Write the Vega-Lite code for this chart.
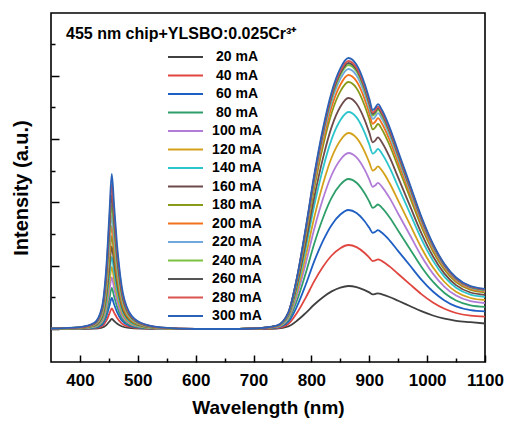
{
"$schema": "https://vega.github.io/schema/vega-lite/v6.json",
"width": 434, "height": 349,
"autosize": {"type": "none"},
"padding": {"left": 51, "top": 13, "right": 22, "bottom": 59},
"background": "white",
"config": {"view": {"stroke": "black", "strokeWidth": 1.6}, "font": "Liberation Sans"},
"title": {"text": "455 nm chip+YLSBO:0.025Cr³⁺", "anchor": "start", "orient": "top", "frame": "group", "offset": -42, "baseline": "alphabetic", "dx": 15, "fontSize": 16, "fontWeight": "bold", "font": "Liberation Sans", "color": "black"},
"data": {"values": [
{"wl":350,"20 mA":0,"40 mA":0.1,"60 mA":0.1,"80 mA":0.1,"100 mA":0.2,"120 mA":0.2,"140 mA":0.2,"160 mA":0.2,"180 mA":0.3,"200 mA":0.3,"220 mA":0.3,"240 mA":0.4,"260 mA":0.4,"280 mA":0.4,"300 mA":0.5},
{"wl":400,"20 mA":0.1,"40 mA":0.2,"60 mA":0.4,"80 mA":0.5,"100 mA":0.6,"120 mA":0.7,"140 mA":0.9,"160 mA":1,"180 mA":1.1,"200 mA":1.2,"220 mA":1.4,"240 mA":1.5,"260 mA":1.6,"280 mA":1.7,"300 mA":1.9},
{"wl":425,"20 mA":0.4,"40 mA":0.8,"60 mA":1.2,"80 mA":1.6,"100 mA":2.1,"120 mA":2.5,"140 mA":2.9,"160 mA":3.3,"180 mA":3.7,"200 mA":4.1,"220 mA":4.5,"240 mA":5,"260 mA":5.4,"280 mA":5.8,"300 mA":6.2},
{"wl":438,"20 mA":1.4,"40 mA":2.9,"60 mA":4.3,"80 mA":5.7,"100 mA":7.2,"120 mA":8.7,"140 mA":10.1,"160 mA":11.6,"180 mA":13,"200 mA":14.4,"220 mA":15.9,"240 mA":17.4,"260 mA":18.8,"280 mA":20.2,"300 mA":21.7},
{"wl":446,"20 mA":4.2,"40 mA":8.6,"60 mA":13,"80 mA":17.2,"100 mA":21.6,"120 mA":26,"140 mA":30.2,"160 mA":34.7,"180 mA":39.1,"200 mA":43.3,"220 mA":47.7,"240 mA":52.1,"260 mA":56.3,"280 mA":60.7,"300 mA":65.1},
{"wl":451,"20 mA":7.5,"40 mA":15.4,"60 mA":23.3,"80 mA":30.8,"100 mA":38.6,"120 mA":46.5,"140 mA":54,"160 mA":61.9,"180 mA":69.8,"200 mA":77.3,"220 mA":85.1,"240 mA":93,"260 mA":100.5,"280 mA":108.4,"300 mA":116.3},
{"wl":455,"20 mA":10,"40 mA":20.5,"60 mA":31,"80 mA":41,"100 mA":51.5,"120 mA":62,"140 mA":72,"160 mA":82.5,"180 mA":93,"200 mA":103,"220 mA":113.5,"240 mA":124,"260 mA":134,"280 mA":144.5,"300 mA":155},
{"wl":459,"20 mA":8,"40 mA":16.4,"60 mA":24.8,"80 mA":32.8,"100 mA":41.2,"120 mA":49.6,"140 mA":57.6,"160 mA":66,"180 mA":74.4,"200 mA":82.4,"220 mA":90.8,"240 mA":99.2,"260 mA":107.2,"280 mA":115.6,"300 mA":124},
{"wl":464,"20 mA":5.5,"40 mA":11.3,"60 mA":17.1,"80 mA":22.6,"100 mA":28.3,"120 mA":34.1,"140 mA":39.6,"160 mA":45.4,"180 mA":51.2,"200 mA":56.7,"220 mA":62.4,"240 mA":68.2,"260 mA":73.7,"280 mA":79.5,"300 mA":85.3},
{"wl":472,"20 mA":2.8,"40 mA":5.7,"60 mA":8.7,"80 mA":11.5,"100 mA":14.4,"120 mA":17.4,"140 mA":20.2,"160 mA":23.1,"180 mA":26,"200 mA":28.8,"220 mA":31.8,"240 mA":34.7,"260 mA":37.5,"280 mA":40.5,"300 mA":43.4},
{"wl":485,"20 mA":1.1,"40 mA":2.3,"60 mA":3.4,"80 mA":4.5,"100 mA":5.7,"120 mA":6.8,"140 mA":7.9,"160 mA":9.1,"180 mA":10.2,"200 mA":11.3,"220 mA":12.5,"240 mA":13.6,"260 mA":14.7,"280 mA":15.9,"300 mA":17},
{"wl":505,"20 mA":0.4,"40 mA":0.8,"60 mA":1.2,"80 mA":1.6,"100 mA":2.1,"120 mA":2.5,"140 mA":2.9,"160 mA":3.3,"180 mA":3.7,"200 mA":4.1,"220 mA":4.5,"240 mA":5,"260 mA":5.4,"280 mA":5.8,"300 mA":6.2},
{"wl":540,"20 mA":0.1,"40 mA":0.2,"60 mA":0.3,"80 mA":0.4,"100 mA":0.5,"120 mA":0.6,"140 mA":0.7,"160 mA":0.8,"180 mA":0.9,"200 mA":1,"220 mA":1.1,"240 mA":1.2,"260 mA":1.3,"280 mA":1.4,"300 mA":1.6},
{"wl":600,"20 mA":0,"40 mA":0,"60 mA":0,"80 mA":0,"100 mA":0,"120 mA":0,"140 mA":0,"160 mA":0,"180 mA":0,"200 mA":0,"220 mA":0,"240 mA":0,"260 mA":0,"280 mA":0,"300 mA":0},
{"wl":650,"20 mA":0,"40 mA":0,"60 mA":0,"80 mA":0,"100 mA":0,"120 mA":0,"140 mA":0,"160 mA":0,"180 mA":0,"200 mA":0,"220 mA":0,"240 mA":0,"260 mA":0,"280 mA":0,"300 mA":0},
{"wl":700,"20 mA":0.1,"40 mA":0.2,"60 mA":0.2,"80 mA":0.3,"100 mA":0.4,"120 mA":0.4,"140 mA":0.4,"160 mA":0.5,"180 mA":0.5,"200 mA":0.5,"220 mA":0.5,"240 mA":0.5,"260 mA":0.5,"280 mA":0.5,"300 mA":0.5},
{"wl":740,"20 mA":0.5,"40 mA":1,"60 mA":1.4,"80 mA":1.8,"100 mA":2.1,"120 mA":2.4,"140 mA":2.6,"160 mA":2.8,"180 mA":3,"200 mA":3,"220 mA":3.1,"240 mA":3.2,"260 mA":3.2,"280 mA":3.2,"300 mA":3.3},
{"wl":760,"20 mA":2.6,"40 mA":5,"60 mA":7.1,"80 mA":9,"100 mA":10.6,"120 mA":11.8,"140 mA":13,"160 mA":13.9,"180 mA":14.8,"200 mA":15.2,"220 mA":15.6,"240 mA":15.8,"260 mA":16,"280 mA":16.1,"300 mA":16.3},
{"wl":775,"20 mA":8.2,"40 mA":16,"60 mA":22.6,"80 mA":28.5,"100 mA":33.4,"120 mA":37.2,"140 mA":41.2,"160 mA":43.9,"180 mA":46.9,"200 mA":48.3,"220 mA":49.4,"240 mA":50.2,"260 mA":50.5,"280 mA":50.9,"300 mA":51.5},
{"wl":790,"20 mA":15.9,"40 mA":31.1,"60 mA":44,"80 mA":55.5,"100 mA":65.1,"120 mA":72.5,"140 mA":80.3,"160 mA":85.5,"180 mA":91.4,"200 mA":94,"220 mA":96.2,"240 mA":97.7,"260 mA":98.4,"280 mA":99.2,"300 mA":100.3},
{"wl":805,"20 mA":24.5,"40 mA":47.9,"60 mA":67.8,"80 mA":85.5,"100 mA":100.3,"120 mA":111.7,"140 mA":123.7,"160 mA":131.7,"180 mA":140.8,"200 mA":144.8,"220 mA":148.2,"240 mA":150.5,"260 mA":151.6,"280 mA":152.8,"300 mA":154.5},
{"wl":820,"20 mA":31.8,"40 mA":62.2,"60 mA":88.1,"80 mA":111,"100 mA":130.2,"120 mA":145,"140 mA":160.6,"160 mA":170.9,"180 mA":182.8,"200 mA":188,"220 mA":192.4,"240 mA":195.4,"260 mA":196.8,"280 mA":198.3,"300 mA":200.5},
{"wl":835,"20 mA":37.6,"40 mA":73.5,"60 mA":104.1,"80 mA":131.3,"100 mA":154,"120 mA":171.5,"140 mA":189.9,"160 mA":202.1,"180 mA":216.1,"200 mA":222.3,"220 mA":227.5,"240 mA":231,"260 mA":232.8,"280 mA":234.5,"300 mA":237.1},
{"wl":850,"20 mA":41.4,"40 mA":80.8,"60 mA":114.5,"80 mA":144.3,"100 mA":169.3,"120 mA":188.6,"140 mA":208.8,"160 mA":222.2,"180 mA":237.6,"200 mA":244.3,"220 mA":250.1,"240 mA":254,"260 mA":255.9,"280 mA":257.8,"300 mA":260.7},
{"wl":864,"20 mA":43,"40 mA":84,"60 mA":119,"80 mA":150,"100 mA":176,"120 mA":196,"140 mA":217,"160 mA":231,"180 mA":247,"200 mA":254,"220 mA":260,"240 mA":264,"260 mA":266,"280 mA":268,"300 mA":271},
{"wl":878,"20 mA":41.9,"40 mA":81.9,"60 mA":116,"80 mA":146.3,"100 mA":171.6,"120 mA":191.1,"140 mA":211.6,"160 mA":225.2,"180 mA":240.8,"200 mA":247.7,"220 mA":253.5,"240 mA":257.4,"260 mA":259.4,"280 mA":261.3,"300 mA":264.2},
{"wl":892,"20 mA":38.9,"40 mA":76,"60 mA":107.7,"80 mA":135.8,"100 mA":159.3,"120 mA":177.4,"140 mA":196.4,"160 mA":209.1,"180 mA":223.5,"200 mA":229.9,"220 mA":235.3,"240 mA":238.9,"260 mA":240.7,"280 mA":242.5,"300 mA":245.3},
{"wl":900,"20 mA":36.6,"40 mA":71.4,"60 mA":101.2,"80 mA":127.5,"100 mA":149.6,"120 mA":166.6,"140 mA":184.5,"160 mA":196.4,"180 mA":210,"200 mA":215.9,"220 mA":221,"240 mA":224.4,"260 mA":226.1,"280 mA":227.8,"300 mA":230.4},
{"wl":906,"20 mA":34.7,"40 mA":67.9,"60 mA":96.2,"80 mA":121.2,"100 mA":142.2,"120 mA":158.4,"140 mA":175.3,"160 mA":186.6,"180 mA":199.6,"200 mA":205.2,"220 mA":210.1,"240 mA":213.3,"260 mA":214.9,"280 mA":216.5,"300 mA":219},
{"wl":910,"20 mA":35,"40 mA":68.5,"60 mA":97,"80 mA":122.3,"100 mA":143.4,"120 mA":159.7,"140 mA":176.9,"160 mA":188.3,"180 mA":201.3,"200 mA":207,"220 mA":211.9,"240 mA":215.2,"260 mA":216.8,"280 mA":218.4,"300 mA":220.9},
{"wl":915,"20 mA":35.7,"40 mA":69.7,"60 mA":98.8,"80 mA":124.5,"100 mA":146.1,"120 mA":162.7,"140 mA":180.1,"160 mA":191.7,"180 mA":205,"200 mA":210.8,"220 mA":215.8,"240 mA":219.1,"260 mA":220.8,"280 mA":222.4,"300 mA":224.9},
{"wl":922,"20 mA":34.7,"40 mA":67.9,"60 mA":96.2,"80 mA":121.2,"100 mA":142.2,"120 mA":158.4,"140 mA":175.3,"160 mA":186.6,"180 mA":199.6,"200 mA":205.2,"220 mA":210.1,"240 mA":213.3,"260 mA":214.9,"280 mA":216.5,"300 mA":219},
{"wl":935,"20 mA":32,"40 mA":62.6,"60 mA":88.7,"80 mA":111.8,"100 mA":131.1,"120 mA":146,"140 mA":161.7,"160 mA":172.1,"180 mA":184,"200 mA":189.2,"220 mA":193.7,"240 mA":196.7,"260 mA":198.2,"280 mA":199.7,"300 mA":201.9},
{"wl":950,"20 mA":28.2,"40 mA":55,"60 mA":77.9,"80 mA":98.3,"100 mA":115.3,"120 mA":128.4,"140 mA":142.1,"160 mA":151.3,"180 mA":161.8,"200 mA":166.4,"220 mA":170.3,"240 mA":172.9,"260 mA":174.2,"280 mA":175.5,"300 mA":177.5},
{"wl":970,"20 mA":23,"40 mA":44.9,"60 mA":63.7,"80 mA":80.3,"100 mA":94.2,"120 mA":104.9,"140 mA":116.1,"160 mA":123.6,"180 mA":132.1,"200 mA":135.9,"220 mA":139.1,"240 mA":141.2,"260 mA":142.3,"280 mA":143.4,"300 mA":145},
{"wl":990,"20 mA":17.8,"40 mA":34.9,"60 mA":49.4,"80 mA":62.3,"100 mA":73,"120 mA":81.3,"140 mA":90.1,"160 mA":95.9,"180 mA":102.5,"200 mA":105.4,"220 mA":107.9,"240 mA":109.6,"260 mA":110.4,"280 mA":111.2,"300 mA":112.5},
{"wl":1010,"20 mA":13.5,"40 mA":26.5,"60 mA":37.5,"80 mA":47.3,"100 mA":55.4,"120 mA":61.7,"140 mA":68.4,"160 mA":72.8,"180 mA":77.8,"200 mA":80,"220 mA":81.9,"240 mA":83.2,"260 mA":83.8,"280 mA":84.4,"300 mA":85.4},
{"wl":1030,"20 mA":10.3,"40 mA":20.2,"60 mA":28.6,"80 mA":36,"100 mA":42.2,"120 mA":47,"140 mA":52.1,"160 mA":55.4,"180 mA":59.3,"200 mA":61,"220 mA":62.4,"240 mA":63.4,"260 mA":63.8,"280 mA":64.3,"300 mA":65},
{"wl":1050,"20 mA":8.2,"40 mA":16,"60 mA":22.6,"80 mA":28.5,"100 mA":33.4,"120 mA":37.2,"140 mA":41.2,"160 mA":43.9,"180 mA":46.9,"200 mA":48.3,"220 mA":49.4,"240 mA":50.2,"260 mA":50.5,"280 mA":50.9,"300 mA":51.5},
{"wl":1075,"20 mA":6.8,"40 mA":13.3,"60 mA":18.8,"80 mA":23.7,"100 mA":27.8,"120 mA":31,"140 mA":34.3,"160 mA":36.5,"180 mA":39,"200 mA":40.1,"220 mA":41.1,"240 mA":41.7,"260 mA":42,"280 mA":42.3,"300 mA":42.8},
{"wl":1100,"20 mA":5.5,"40 mA":12.4,"60 mA":17.6,"80 mA":22.2,"100 mA":26,"120 mA":29,"140 mA":32.1,"160 mA":34.2,"180 mA":36.6,"200 mA":37.6,"220 mA":38.5,"240 mA":39.1,"260 mA":39.4,"280 mA":39.7,"300 mA":40.1}
]},
"transform": [{"fold": ["20 mA","40 mA","60 mA","80 mA","100 mA","120 mA","140 mA","160 mA","180 mA","200 mA","220 mA","240 mA","260 mA","280 mA","300 mA"], "as": ["series", "intensity"]}],
"layer": [
{"mark": {"type": "line", "opacity": 0},
 "encoding": {
  "x": {"field": "wl", "type": "quantitative", "scale": {"domain": [350, 1100], "nice": false, "zero": false},
        "axis": {"orient": "bottom", "values": [450, 550, 650, 750, 850, 950, 1050], "labels": false, "title": null, "domain": false, "grid": false, "ticks": true, "tickSize": -4, "tickColor": "black", "tickWidth": 1.5}},
  "y": {"field": "intensity", "type": "quantitative", "scale": {"domain": [-33, 316], "nice": false, "zero": false},
        "axis": {"orient": "left", "values": [31.7, 95, 158.3, 221.7, 285], "labels": false, "title": null, "domain": false, "grid": false, "ticks": true, "tickSize": -4, "tickColor": "black", "tickWidth": 1.5}},
  "detail": {"field": "series"}
 }},
{"mark": {"type": "line", "strokeWidth": 1.8, "interpolate": "monotone"},
 "encoding": {
  "x": {"field": "wl", "type": "quantitative", "scale": {"domain": [350, 1100], "nice": false, "zero": false},
        "axis": {"orient": "bottom", "values": [400, 500, 600, 700, 800, 900, 1000, 1100], "format": "d", "labelOverlap": false, "labelFlush": false, "title": "Wavelength (nm)", "domain": false, "grid": false, "tickSize": -7, "tickColor": "black", "tickWidth": 1.5, "labelFontSize": 17, "labelFontWeight": "bold", "labelColor": "black", "labelFont": "Liberation Sans", "labelPadding": 17, "titleFontSize": 19, "titleFontWeight": "bold", "titleColor": "black", "titleFont": "Liberation Sans", "titlePadding": 10}},
  "y": {"field": "intensity", "type": "quantitative", "scale": {"domain": [-33, 316], "nice": false, "zero": false},
        "axis": {"orient": "left", "values": [0, 63.3, 126.6, 190, 253.3], "labels": false, "title": "Intensity (a.u.)", "domain": false, "grid": false, "tickSize": -8, "tickColor": "black", "tickWidth": 1.5, "titleFontSize": 20, "titleFontWeight": "bold", "titleColor": "black", "titleFont": "Liberation Sans", "titlePadding": 19}},
  "color": {"field": "series", "type": "nominal",
    "scale": {"domain": ["20 mA","40 mA","60 mA","80 mA","100 mA","120 mA","140 mA","160 mA","180 mA","200 mA","220 mA","240 mA","260 mA","280 mA","300 mA"],
              "range": ["#404040","#E0463F","#1F5FC4","#2E9E6A","#B07CD8","#D4A21A","#2CC5CC","#6E4A4A","#8A9A1A","#F2711C","#6FA8DC","#7CC242","#555555","#D9534F","#2A62B8"]},
    "legend": {"orient": "none", "legendX": 126.5, "legendY": 36, "title": null, "padding": 0, "symbolType": "M-2.5,0H2.5", "symbolSize": 196, "symbolStrokeWidth": 2, "labelFontSize": 14, "labelFontWeight": "bold", "labelColor": "black", "labelFont": "Liberation Sans", "labelAlign": "center", "labelOffset": 43.5, "rowPadding": 3.5, "symbolLimit": 0}}
 }}
],
"resolve": {"axis": {"x": "independent", "y": "independent"}}
}
